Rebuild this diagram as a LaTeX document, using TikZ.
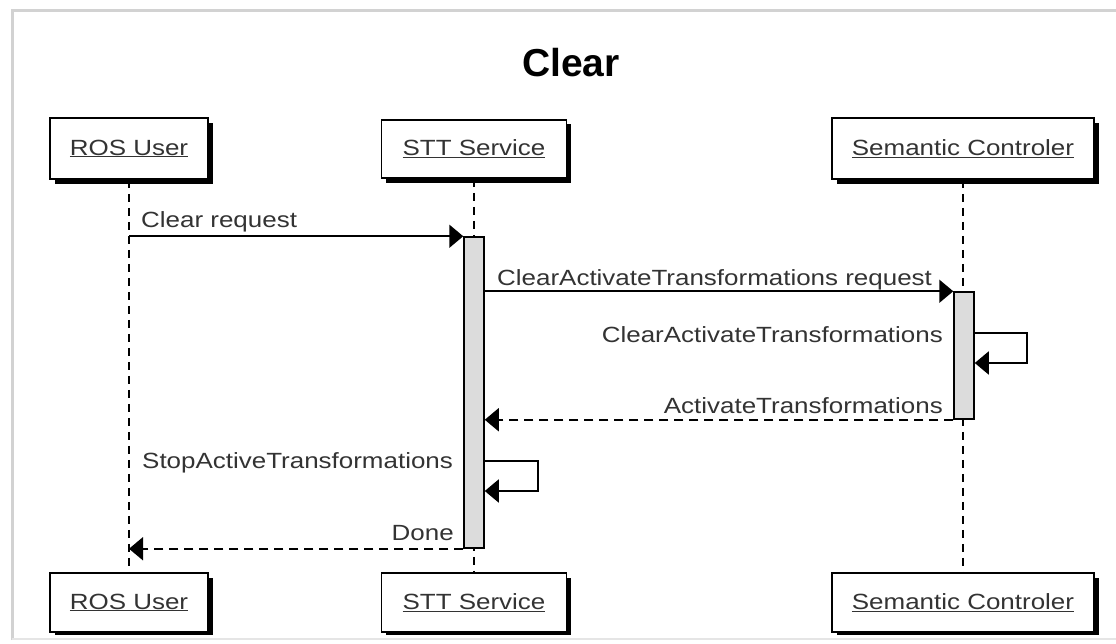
\documentclass[tikz,border=0pt]{standalone}
\usepackage{fontspec}
\setmainfont[FakeStretch=1.18]{Liberation Sans}
\newfontfamily\titlefont{Liberation Sans}
\usetikzlibrary{arrows.meta}
\definecolor{txt}{HTML}{333333}
\definecolor{actfill}{HTML}{DCDCDC}
\tikzset{
  lbl/.style={font=\fontsize{22}{24}\selectfont, text=txt, inner sep=0pt},
  party/.style={draw=black, line width=1.8pt, fill=white, minimum height=60pt,
                font=\fontsize{22}{24}\selectfont, text=txt, inner sep=0pt},
  shade/.style={fill=black},
  lifeline/.style={draw=black, line width=1.5pt, dash pattern=on 8pt off 6pt},
  act/.style={draw=black, line width=1.5pt, fill=actfill, minimum width=20pt, inner sep=0pt},
  tip/.style={-{Triangle[length=14pt, width=23pt]}},
  msg/.style={draw=black, line width=1.8pt, tip},
  ret/.style={draw=black, line width=1.8pt, tip, dash pattern=on 9pt off 6pt},
}
\newcommand{\ul}[1]{\underline{#1}}
\begin{document}
\begin{tikzpicture}[x=1pt, y=-1pt]
\useasboundingbox (0,0) rectangle (1116,643);
\fill[white] (0,0) rectangle (1116,643);
% page frame
\draw[gray!35, line width=3pt] (12,640) -- (12,10) -- (1116,10);
\draw[gray!20, line width=2pt] (12,639) -- (1116,639);

% title
\node[font=\titlefont\bfseries\fontsize{39}{44}\selectfont, inner sep=0pt] (title) at (571,63) {Clear};

% drop shadows of participant boxes
\begin{scope}
\clip (0,0) rectangle (1116,634);
\fill[shade] (55,123) rectangle (213,184);
\fill[shade] (386,124) rectangle (571,183);
\fill[shade] (837,123) rectangle (1099,184);
\fill[shade] (55,578) rectangle (213,640);
\fill[shade] (386,578) rectangle (571,640);
\fill[shade] (837,578) rectangle (1099,640);
\end{scope}

% participants (top)
\node[party, minimum width=158pt, minimum height=61pt] (ros) at (129,148.5) {\ul{ROS User}};
\node[party, minimum width=185pt, minimum height=58pt] (stt) at (474,149) {\ul{STT Service}};
\node[party, minimum width=262pt, minimum height=61pt] (sem) at (963,148.5) {\ul{Semantic Controler}};
% participants (bottom)
\node[party, minimum width=158pt, minimum height=59pt] (rosb) at (129,602.5) {\ul{ROS User}};
\node[party, minimum width=185pt, minimum height=59pt] (sttb) at (474,602.5) {\ul{STT Service}};
\node[party, minimum width=262pt, minimum height=59pt] (semb) at (963,602.5) {\ul{Semantic Controler}};

% lifelines
\draw[lifeline] (ros.south) -- (rosb.north);
\draw[lifeline] (stt.south) -- (sttb.north);
\draw[lifeline] (sem.south) -- (semb.north);

% activations
\node[act, minimum height=311pt] (a1) at (474,392.5) {};
\node[act, minimum height=127pt] (a2) at (964,355.5) {};

% self-message corners
\coordinate (s1) at (1027,333);
\coordinate (s2) at (1027,363);
\coordinate (t1) at (538,461);
\coordinate (t2) at (538,491);

% messages
\draw[msg] (ros.south |- a1.north west) -- (a1.north west);
\draw[msg] (a1.east |- a2.north west) -- (a2.north west);
\draw[msg] (a2.east |- s1) -- (s1) -- (s2) -- (a2.east |- s2);
\draw[ret] (a2.south west) -- (a1.east |- a2.south west);
\draw[msg] (a1.east |- t1) -- (t1) -- (t2) -- (a1.east |- t2);
\draw[ret] (a1.south west) -- (ros.south |- a1.south west);

% labels
\node[lbl, anchor=base west] (l1) at (141,227) {Clear request};
\node[lbl, anchor=base west] (l2) at (497,285) {ClearActivateTransformations request};
\node[lbl, anchor=base east] (l3) at (943,342) {ClearActivateTransformations};
\node[lbl, anchor=base east] (l4) at (943,413) {ActivateTransformations};
\node[lbl, anchor=base west] (l5) at (142,468) {StopActiveTransformations};
\node[lbl, anchor=base east] (l6) at (454,540) {Done};
\end{tikzpicture}
\end{document}
